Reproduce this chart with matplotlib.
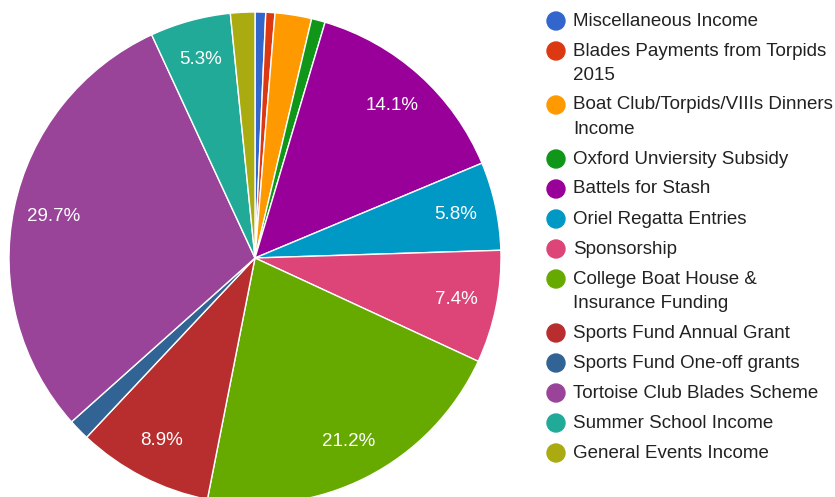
import matplotlib.pyplot as plt
from matplotlib.patches import Ellipse

plt.rcParams['font.family'] = ['Liberation Sans', 'DejaVu Sans']

labels = ['Miscellaneous Income', 'Blades Payments from Torpids\n2015',
          'Boat Club/Torpids/VIIIs Dinners\nIncome', 'Oxford Unviersity Subsidy',
          'Battels for Stash', 'Oriel Regatta Entries', 'Sponsorship',
          'College Boat House &\nInsurance Funding', 'Sports Fund Annual Grant',
          'Sports Fund One-off grants', 'Tortoise Club Blades Scheme',
          'Summer School Income', 'General Events Income']
shares = [0.7, 0.6, 2.4, 0.9, 14.1, 5.8, 7.4, 21.2, 8.9, 1.4, 29.7, 5.3, 1.6]
colors = ['#3366cc', '#dc3912', '#ff9900', '#109618', '#990099', '#0099c6',
          '#dd4477', '#66aa00', '#b82e2e', '#316395', '#994499', '#22aa99',
          '#aaaa11']

W, H = 835, 497
fig = plt.figure(figsize=(W / 100, H / 100), dpi=100)

# pie centre (255, 258) px, radius 246 px
cx, cy, r = 255, 258, 246
ax = fig.add_axes([(cx - r) / W, (H - cy - r) / H, 2 * r / W, 2 * r / H])
ax.pie(shares, colors=colors, startangle=90, counterclock=False,
       wedgeprops=dict(edgecolor='white', linewidth=1),
       autopct=lambda p: f'{p:.1f}%' if p >= 5 else '',
       pctdistance=0.835, textprops=dict(color='white', fontsize=13.5))
ax.set_xlim(-1, 1)
ax.set_ylim(-1, 1)
ax.set_aspect('equal')

# legend by hand so the wrapped entries sit like the original
y = 21
for lab, col in zip(labels, colors):
    fig.add_artist(Ellipse((556 / W, 1 - y / H), 18 / W, 18 / H,
                           color=col, transform=fig.transFigure))
    lines = lab.split('\n')
    for k, line in enumerate(lines):
        fig.text(573 / W, 1 - (y + 24 * k) / H, line, fontsize=13.5,
                 color='#222222', va='center', ha='left')
    y += 30 + 24 * (len(lines) - 1)

fig.savefig('out.png', dpi=100)
